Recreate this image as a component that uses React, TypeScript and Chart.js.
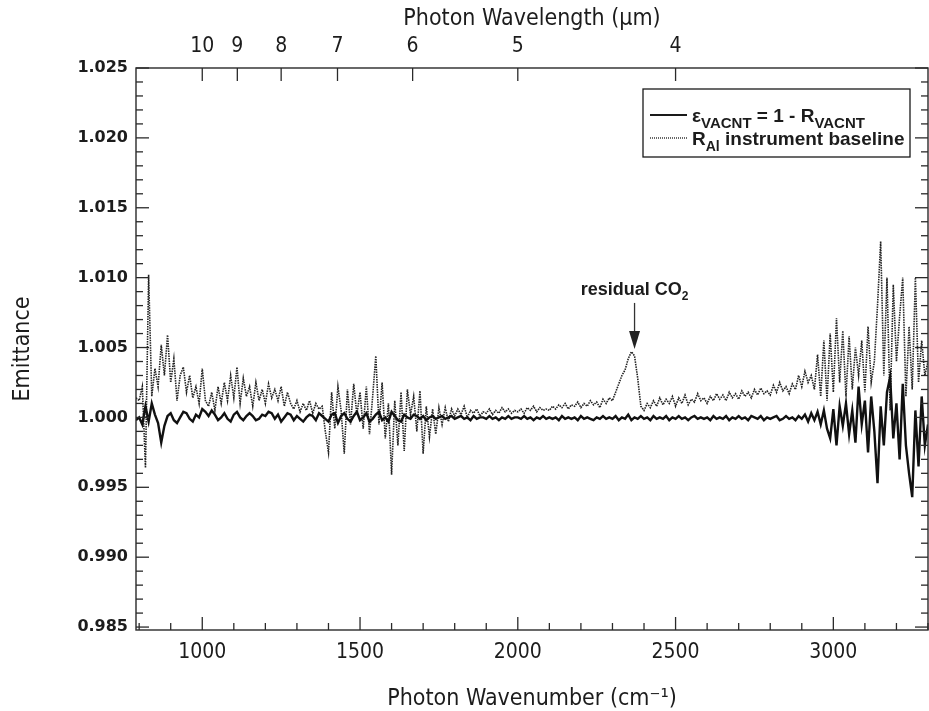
import React, { useEffect, useRef } from 'react';
import { Chart, registerables } from 'chart.js';

Chart.register(...registerables);

// Sampling grid of the spectra (cm^-1)
const WN_START = 790;
const WN_STEP = 10;

// Emittance of VACNT, offsets from 1 in units of 1e-4 (790 ... 3300 cm^-1)
const emittanceDev = [
  -2,
  0, -5, 8, -3, 10, 2, -4, -18, -6, 1,
  3, -2, -4, 0, 4, 3, -1, -3, 2, 0,
  6, 4, 1, 5, 2, -2, 0, 3, -1, -3,
  2, 4, 0, -2, 1, 3, 1, -2, -1, 2,
  1, 4, 3, -1, 2, -3, 0, 3, 2, -2,
  1, -1, -3, 0, 2, 1, -2, 3, 1, -1,
  -3, 2, 3, -4, 1, 3, -1, -3, 1, 4,
  -2, 0, 3, -3, -1, 2, 4, -2, 0, -3,
  4, 1, -2, -3, 2, 0, -1, 2, 1, -1,
  1, -2, 0, 1, -1, 0, 1, -1, 0, 1,
  -1, 0, 1, -1, 0, -2, 1, -1, 0, 0,
  -1, 1, -1, 0, -2, 0, -1, 1, -1, 0,
  0, -1, 1, -1, 0, -2, 0, -1, 1, -1,
  0, -1, 0, -2, 1, -1, 0, -1, 0, -2,
  1, -1, 0, -1, -2, 0, -1, 1, -1, 0,
  -1, 1, -2, 0, -1, 2, -2, 0, -1, 1,
  -1, 0, -2, 1, -1, 0, -1, 1, -2, 0,
  -1, 1, -1, 0, -2, 0, 1, -1, 0, -1,
  0, -2, 1, -1, 0, -1, 1, -2, 0, -1,
  1, -1, 0, -2, 1, 0, -1, 1, -2, 0,
  -1, 0, 1, -2, -1, 1, -1, 0, -2, 1,
  -1, 2, -3, 3, -2, 4, -5, 5, -8, -15,
  6, -20, 8, -6, 10, -12, 5, -18, 22, -5,
  12, -25, 15, -10, -47, 8, -20, 18, 29, -15,
  10, -30, 24, -20, -40, -57, 5, -35, 15, -20,
  -5,
];

// R_Al instrument baseline, offsets from 1 in units of 1e-4 (790 ... 3300 cm^-1)
const baselineDev = [
  14,
  12, 22, -36, 102, 15, 35, 22, 52, 30, 59,
  25, 42, 12, 30, 36, 18, 30, 14, 22, 10,
  35, 12, 8, 18, 5, 22, 10, 25, 12, 30,
  14, 36, 10, 28, 15, 22, 8, 25, 12, 20,
  10, 24, 14, 20, 12, 22, 8, 18, 10, 6,
  12, 4, 10, 5, 12, 3, 10, 6, 8, -10,
  -25, 18, -8, 22, 5, -26, 20, -5, 24, 2,
  18, -8, 22, -12, 15, 44, -5, 25, -15, 10,
  -41, 12, -20, 18, -24, 20, 2, 15, -10, 19,
  -26, 8, -14, 6, -12, 7, -5, 7, -3, 6,
  1, 6, 2, 8, 0, 5, 3, 6, 1, 4,
  3, 6, 2, 5, 3, 7, 4, 6, 3, 5,
  4, 6, 3, 7, 5, 8, 4, 7, 5, 6,
  5, 8, 6, 9, 7, 10, 6, 9, 8, 11,
  7, 10, 8, 12, 9, 11, 7, 13, 10, 14,
  12, 18, 24, 30, 34, 42, 47, 44, 28, 8,
  5, 10, 7, 12, 8, 14, 9, 13, 10, 15,
  8, 14, 10, 16, 9, 13, 11, 17, 12, 14,
  10, 15, 12, 17, 13, 16, 12, 18, 14, 17,
  13, 19, 15, 18, 14, 20, 16, 21, 17, 19,
  16, 23, 18, 25, 19, 22, 17, 24, 20, 30,
  22, 33, 25, 30, 20, 45, 15, 55, 12, 60,
  18, 71, 25, 62, 15, 58, 20, 50, 30, 55,
  18, 65, 25, 40, 80, 126, 30, 100, 5, 95,
  40, 72, 100, 15, 65, 20, 100, 25, 55, 30,
  40,
];

const X_MIN = 790;
const X_MAX = 3300;
const Y_MIN = 0.98479;
const Y_MAX = 1.025;

const bottomTickValues = [1000, 1500, 2000, 2500, 3000];
const bottomMinorValues = [
  800, 900, 1000, 1100, 1200, 1300, 1400, 1500, 1600, 1700, 1800, 1900, 2000,
  2100, 2200, 2300, 2400, 2500, 2600, 2700, 2800, 2900, 3000, 3100, 3200, 3300,
];
const wavelengthTicks = [10, 9, 8, 7, 6, 5, 4]; // µm
const yTickValues = [0.985, 0.99, 0.995, 1.0, 1.005, 1.01, 1.015, 1.02, 1.025];
const yMinorValues = [
  0.985, 0.986, 0.987, 0.988, 0.989, 0.99, 0.991, 0.992, 0.993, 0.994, 0.995,
  0.996, 0.997, 0.998, 0.999, 1.0, 1.001, 1.002, 1.003, 1.004, 1.005, 1.006,
  1.007, 1.008, 1.009, 1.01, 1.011, 1.012, 1.013, 1.014, 1.015, 1.016, 1.017,
  1.018, 1.019, 1.02, 1.021, 1.022, 1.023, 1.024, 1.025,
];

const co2Marker = { x: 2370, y: 1.0049, label: 'residual CO', sub: '2' };

const wavenumbers = emittanceDev.map((_, i) => WN_START + WN_STEP * i);

const NARROW = '"Liberation Sans Narrow", "DejaVu Sans Condensed", "Arial Narrow", sans-serif';
const INK = '#1c1c1c';

type Part = { t: string; sub?: boolean };

function drawRich(ctx: CanvasRenderingContext2D, parts: Part[], x: number, y: number, size: number, subSize: number) {
  let cx = x;
  for (const p of parts) {
    ctx.font = `bold ${p.sub ? subSize : size}px "Liberation Sans", Arial, sans-serif`;
    ctx.fillText(p.t, cx, p.sub ? y + size * 0.3 : y);
    cx += ctx.measureText(p.t).width;
  }
  return cx - x;
}

function measureRich(ctx: CanvasRenderingContext2D, parts: Part[], size: number, subSize: number) {
  let w = 0;
  for (const p of parts) {
    ctx.font = `bold ${p.sub ? subSize : size}px "Liberation Sans", Arial, sans-serif`;
    w += ctx.measureText(p.t).width;
  }
  return w;
}

const framePlugin = {
  id: 'frame',
  afterDraw(chart: any) {
    const { ctx, chartArea: a, scales } = chart;
    const xs = scales.x;
    const ys = scales.y;
    ctx.save();
    ctx.strokeStyle = '#2a2a2a';
    ctx.lineWidth = 1.4;
    ctx.strokeRect(a.left, a.top, a.right - a.left, a.bottom - a.top);

    const seg = (x1: number, y1: number, x2: number, y2: number) => {
      ctx.beginPath();
      ctx.moveTo(x1, y1);
      ctx.lineTo(x2, y2);
      ctx.stroke();
    };
    ctx.lineWidth = 1.3;
    for (const v of bottomMinorValues) {
      const px = xs.getPixelForValue(v);
      const len = v % 500 === 0 ? 13 : 7;
      seg(px, a.bottom, px, a.bottom - len);
    }
    for (const lam of wavelengthTicks) {
      const px = xs.getPixelForValue(1e4 / lam);
      seg(px, a.top, px, a.top + 13);
    }
    for (const v of yMinorValues) {
      const py = ys.getPixelForValue(v);
      const major = Math.abs(Math.round(v * 1000) % 5) === 0;
      const len = major ? 13 : 7;
      seg(a.left, py, a.left + len, py);
      seg(a.right, py, a.right - len, py);
    }

    // legend
    const bw = 267;
    const bh = 68;
    const bx = a.right - 285;
    const by = a.top + 21;
    ctx.fillStyle = '#ffffff';
    ctx.fillRect(bx, by, bw, bh);
    ctx.lineWidth = 1.3;
    ctx.strokeStyle = '#1a1a1a';
    ctx.strokeRect(bx, by, bw, bh);
    const r1 = by + 26;
    const r2 = by + 49;
    ctx.lineWidth = 2.2;
    seg(bx + 7, r1, bx + 44, r1);
    ctx.save();
    ctx.lineWidth = 1.3;
    ctx.setLineDash([1, 1]);
    seg(bx + 7, r2, bx + 44, r2);
    ctx.restore();
    ctx.fillStyle = INK;
    ctx.textBaseline = 'alphabetic';
    ctx.textAlign = 'left';
    drawRich(ctx, [{ t: 'ε' }, { t: 'VACNT', sub: true }, { t: ' = 1 - R' }, { t: 'VACNT', sub: true }], bx + 49, r1 + 7, 19, 15);
    drawRich(ctx, [{ t: 'R' }, { t: 'Al', sub: true }, { t: ' instrument baseline' }], bx + 49, r2 + 7, 19, 14);

    // residual CO2 annotation
    const tx = xs.getPixelForValue(co2Marker.x);
    const ty = ys.getPixelForValue(co2Marker.y);
    ctx.strokeStyle = '#333';
    ctx.lineWidth = 1.3;
    seg(tx, ty - 46, tx, ty - 16);
    ctx.fillStyle = '#222';
    ctx.beginPath();
    ctx.moveTo(tx - 5.5, ty - 18);
    ctx.lineTo(tx + 5.5, ty - 18);
    ctx.lineTo(tx, ty);
    ctx.closePath();
    ctx.fill();
    const parts: Part[] = [{ t: co2Marker.label }, { t: co2Marker.sub, sub: true }];
    const w = measureRich(ctx, parts, 18, 12);
    ctx.fillStyle = INK;
    drawRich(ctx, parts, tx - w / 2, ty - 54, 18, 12);
    ctx.restore();
  },
};

export default function App() {
  const ref = useRef<HTMLCanvasElement | null>(null);
  useEffect(() => {
    if (!ref.current) return;
    const chart = new Chart(ref.current, {
      type: 'line',
      data: {
        datasets: [
          {
            label: 'ε VACNT = 1 - R VACNT',
            data: wavenumbers.map((x, i) => ({ x, y: 1 + emittanceDev[i] / 1e4 })),
            borderColor: '#111111',
            borderWidth: 2.4,
            pointRadius: 0,
            tension: 0,
            xAxisID: 'x',
            yAxisID: 'y',
          },
          {
            label: 'R Al instrument baseline',
            data: wavenumbers.map((x, i) => ({ x, y: 1 + baselineDev[i] / 1e4 })),
            borderColor: '#222222',
            borderWidth: 1.6,
            borderDash: [1.5, 1],
            pointRadius: 0,
            tension: 0,
            xAxisID: 'x',
            yAxisID: 'y',
          },
        ],
      },
      options: {
        animation: false,
        responsive: false,
        layout: { padding: 0 },
        plugins: { legend: { display: false }, tooltip: { enabled: false } },
        scales: {
          x: {
            type: 'linear',
            position: 'bottom',
            min: X_MIN,
            max: X_MAX,
            afterBuildTicks: (s: any) => {
              s.ticks = bottomTickValues.map((v) => ({ value: v }));
            },
            afterFit: (s: any) => {
              s.height = 81;
            },
            grid: { display: false, drawTicks: false },
            border: { display: false },
            ticks: {
              autoSkip: false,
              maxRotation: 0,
              padding: 10,
              color: INK,
              font: { family: NARROW, size: 21 },
              callback: (v: any) => String(v),
            },
            title: {
              display: true,
              text: 'Photon Wavenumber (cm⁻¹)',
              color: INK,
              font: { family: NARROW, size: 23, lineHeight: 1 },
              padding: { top: 0, bottom: 0 },
            },
          },
          x2: {
            type: 'linear',
            position: 'top',
            min: X_MIN,
            max: X_MAX,
            afterBuildTicks: (s: any) => {
              s.ticks = wavelengthTicks.map((l) => ({ value: 1e4 / l }));
            },
            afterFit: (s: any) => {
              s.height = 68;
            },
            grid: { display: false, drawTicks: false },
            border: { display: false },
            ticks: {
              autoSkip: false,
              maxRotation: 0,
              padding: 9,
              color: INK,
              font: { family: NARROW, size: 21 },
              callback: (v: any) => String(Math.round(1e4 / v)),
            },
            title: {
              display: true,
              text: 'Photon Wavelength (μm)',
              color: INK,
              font: { family: NARROW, size: 23 },
              padding: { top: 5, bottom: 0 },
            },
          },
          y: {
            type: 'linear',
            position: 'left',
            min: Y_MIN,
            max: Y_MAX,
            afterBuildTicks: (s: any) => {
              s.ticks = yTickValues.map((v) => ({ value: v }));
            },
            afterFit: (s: any) => {
              s.width = 136;
            },
            grid: { display: false, drawTicks: false },
            border: { display: false },
            ticks: {
              autoSkip: false,
              padding: 8,
              color: INK,
              font: { family: '"DejaVu Sans", sans-serif', size: 16, weight: 'bold' },
              callback: (v: any) => Number(v).toFixed(3),
            },
            title: {
              display: true,
              text: 'Emittance',
              color: INK,
              font: { family: NARROW, size: 23 },
              padding: { top: 9, bottom: 0 },
            },
          },
          y2: {
            type: 'linear',
            position: 'right',
            min: Y_MIN,
            max: Y_MAX,
            afterFit: (s: any) => {
              s.width = 1;
            },
            grid: { display: false, drawTicks: false },
            border: { display: false },
            ticks: { display: false },
          },
        },
      } as any,
      plugins: [framePlugin],
    });
    return () => chart.destroy();
  }, []);

  return (
    <div style={{ position: 'absolute', left: 0, top: 0, width: 929, height: 711, background: '#fff' }}>
      <canvas ref={ref} width={929} height={711} style={{ display: 'block', width: 929, height: 711 }} />
    </div>
  );
}
